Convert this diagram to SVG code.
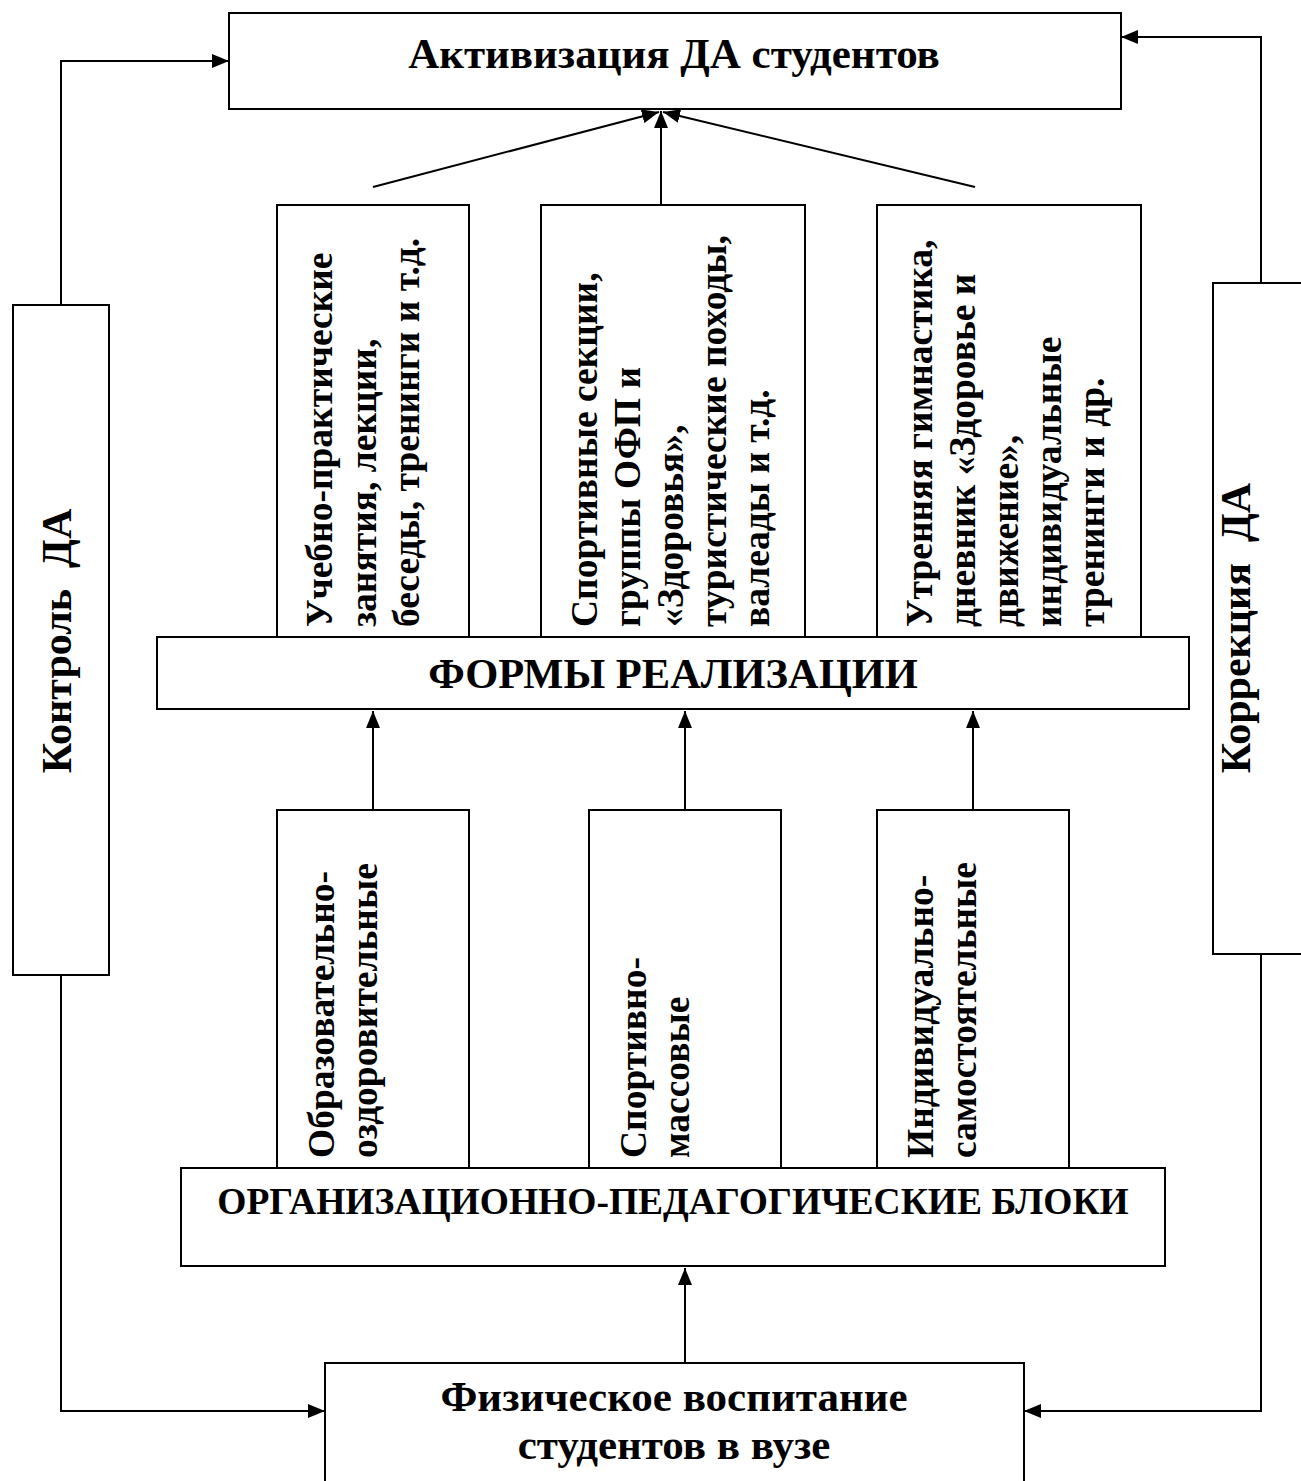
<svg xmlns="http://www.w3.org/2000/svg" width="1301" height="1481" viewBox="0 0 1301 1481">
<style>
.box{fill:#fff;stroke:#000;stroke-width:2}
.t{font-family:'Liberation Serif','Times New Roman',serif;font-weight:bold;fill:#000}
.c{text-anchor:middle}
.con{fill:none;stroke:#000;stroke-width:2}
</style>
<defs>
<marker id="ah" markerUnits="userSpaceOnUse" markerWidth="17" markerHeight="14" refX="17" refY="7" orient="auto">
<path d="M0,0 L17,7 L0,14 z" fill="#000"/>
</marker>
</defs>
<rect width="1301" height="1481" fill="#fff"/>
<g id="connectors">
<polyline class="con" points="61,349 61,61 229,61" marker-end="url(#ah)"/>
<polyline class="con" points="61,975 61,1411 325,1411" marker-end="url(#ah)"/>
<polyline class="con" points="1261,325 1261,37 1121,37" marker-end="url(#ah)"/>
<polyline class="con" points="1261,954 1261,1411 1024,1411" marker-end="url(#ah)"/>
<line class="con" x1="373" y1="187" x2="659" y2="112" marker-end="url(#ah)"/>
<line class="con" x1="661" y1="212" x2="661" y2="111" marker-end="url(#ah)"/>
<line class="con" x1="975" y1="187" x2="663" y2="112" marker-end="url(#ah)"/>
<line class="con" x1="373" y1="810" x2="373" y2="711" marker-end="url(#ah)"/>
<line class="con" x1="685" y1="810" x2="685" y2="711" marker-end="url(#ah)"/>
<line class="con" x1="973" y1="810" x2="973" y2="711" marker-end="url(#ah)"/>
<line class="con" x1="685" y1="1363" x2="685" y2="1268" marker-end="url(#ah)"/>
</g>
<g id="top">
<rect class="box" x="229" y="13" width="892" height="96"/>
<text class="t c" x="674" y="68" font-size="43">Активизация ДА студентов</text>
</g>
<g id="kontrol">
<rect class="box" x="13" y="305" width="96" height="670"/>
<text class="t c" font-size="42" transform="translate(71,641) rotate(-90)">Контроль&#160; ДА</text>
</g>
<g id="korrekcia">
<rect class="box" x="1213" y="283" width="100" height="671"/>
<text class="t c" font-size="42" transform="translate(1250,628) rotate(-90)">Коррекция&#160; ДА</text>
</g>
<g id="form1">
<rect class="box" x="277" y="205" width="192" height="432"/>
<g class="t" font-size="37.5">
<text transform="translate(332,627) rotate(-90)">Учебно-практические</text>
<text transform="translate(376,627) rotate(-90)">занятия, лекции,</text>
<text transform="translate(419,627) rotate(-90)">беседы, тренинги и т.д.</text>
</g>
</g>
<g id="form2">
<rect class="box" x="541" y="205" width="264" height="432"/>
<g class="t" font-size="37.5">
<text transform="translate(597,627) rotate(-90)">Спортивные секции,</text>
<text transform="translate(640,627) rotate(-90)">группы ОФП и</text>
<text transform="translate(683,627) rotate(-90)">«Здоровья»,</text>
<text transform="translate(726,627) rotate(-90)">туристические походы,</text>
<text transform="translate(769,627) rotate(-90)">валеады и т.д.</text>
</g>
</g>
<g id="form3">
<rect class="box" x="877" y="205" width="264" height="432"/>
<g class="t" font-size="37.5">
<text transform="translate(932,627) rotate(-90)">Утренняя гимнастика,</text>
<text transform="translate(975,627) rotate(-90)">дневник «Здоровье и</text>
<text transform="translate(1018,627) rotate(-90)">движение»,</text>
<text transform="translate(1061,627) rotate(-90)">индивидуальные</text>
<text transform="translate(1104,627) rotate(-90)">тренинги и др.</text>
</g>
</g>
<g id="formy">
<rect class="box" x="157" y="637" width="1032" height="72"/>
<text class="t c" x="673" y="688" font-size="42.5">ФОРМЫ РЕАЛИЗАЦИИ</text>
</g>
<g id="block1">
<rect class="box" x="277" y="810" width="192" height="358"/>
<g class="t" font-size="37.5">
<text transform="translate(334,1158) rotate(-90)">Образовательно-</text>
<text transform="translate(377,1158) rotate(-90)">оздоровительные</text>
</g>
</g>
<g id="block2">
<rect class="box" x="589" y="810" width="192" height="358"/>
<g class="t" font-size="37.5">
<text transform="translate(646,1158) rotate(-90)">Спортивно-</text>
<text transform="translate(689,1158) rotate(-90)">массовые</text>
</g>
</g>
<g id="block3">
<rect class="box" x="877" y="810" width="192" height="358"/>
<g class="t" font-size="37.5">
<text transform="translate(933,1158) rotate(-90)">Индивидуально-</text>
<text transform="translate(976,1158) rotate(-90)">самостоятельные</text>
</g>
</g>
<g id="org">
<rect class="box" x="181" y="1168" width="984" height="98"/>
<text class="t c" x="673" y="1214" font-size="37.5">ОРГАНИЗАЦИОННО-ПЕДАГОГИЧЕСКИЕ БЛОКИ</text>
</g>
<g id="fiz">
<rect class="box" x="325" y="1363" width="699" height="130"/>
<text class="t c" x="674" y="1411" font-size="43">Физическое воспитание</text>
<text class="t c" x="674" y="1459" font-size="43">студентов в вузе</text>
</g>
</svg>
